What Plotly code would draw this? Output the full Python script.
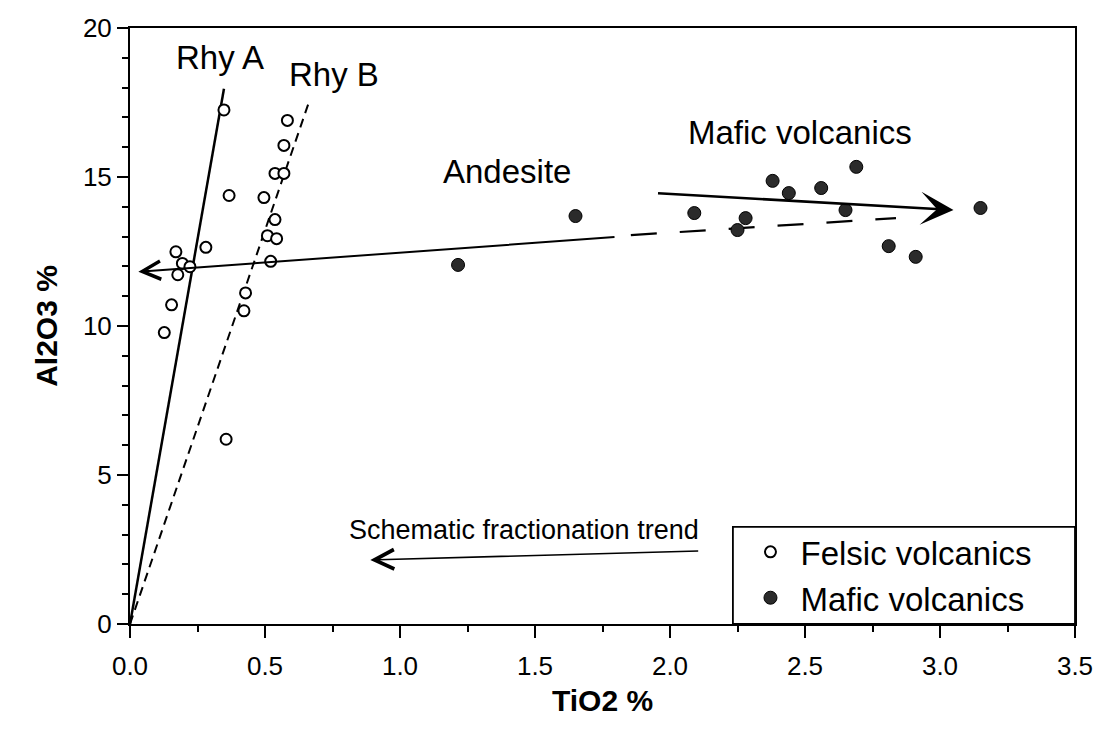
import plotly.graph_objects as go

# Felsic volcanics (open circles)
felsic_tio2 = [0.348, 0.367, 0.170, 0.281, 0.194, 0.222, 0.177, 0.154, 0.127, 0.356,
               0.583, 0.570, 0.537, 0.570, 0.496, 0.537, 0.509, 0.543, 0.521, 0.428, 0.422]
felsic_al2o3 = [17.25, 14.38, 12.49, 12.64, 12.10, 11.99, 11.72, 10.71, 9.78, 6.20,
                16.90, 16.06, 15.12, 15.12, 14.31, 13.57, 13.03, 12.93, 12.17, 11.11, 10.51]

# Mafic volcanics (filled circles)
mafic_tio2 = [1.215, 1.65, 2.09, 2.28, 2.25, 2.38, 2.44, 2.56, 2.65, 2.69, 2.81, 2.91, 3.15]
mafic_al2o3 = [12.05, 13.69, 13.79, 13.62, 13.22, 14.87, 14.46, 14.63, 13.89, 15.34, 12.68, 12.32, 13.96]

# Rhyolite trend lines through the origin
rhy_a_x = [0.0, 0.348]
rhy_a_y = [0.0, 17.96]
rhy_b_x = [0.0, 0.66]
rhy_b_y = [0.0, 17.44]

# Main fractionation trend: solid arrow part and dashed extension
trend_solid_x = [0.031, 1.80]
trend_solid_y = [11.82, 12.99]
trend_dash_x = [1.855, 2.837]
trend_dash_y = [13.05, 13.62]

# Mafic volcanics arrow (tail, head)
mafic_arrow_x = [1.95, 3.05]
mafic_arrow_y = [14.46, 13.89]

# Schematic fractionation trend arrow (tail, head)
schematic_x = [2.11, 0.89]
schematic_y = [2.45, 2.15]

# Text labels
label_text = ["Rhy A", "Rhy B", "Andesite", "Mafic volcanics", "Schematic fractionation trend"]
label_x = [0.333, 0.757, 1.397, 2.48, 1.46]
label_y = [19.0, 18.45, 15.18, 16.48, 3.15]
label_size = [33, 33, 33, 33, 27]

x_ticks = [0.0, 0.5, 1.0, 1.5, 2.0, 2.5, 3.0, 3.5]
y_ticks = [0, 5, 10, 15, 20]

FONT = "Liberation Sans, Arial, Helvetica, sans-serif"

fig = go.Figure()

fig.add_trace(go.Scatter(x=rhy_a_x, y=rhy_a_y, mode="lines",
                         line=dict(color="black", width=2.5), showlegend=False, hoverinfo="skip"))
fig.add_trace(go.Scatter(x=rhy_b_x, y=rhy_b_y, mode="lines",
                         line=dict(color="black", width=2, dash="9px,6px"), showlegend=False, hoverinfo="skip"))
fig.add_trace(go.Scatter(x=trend_dash_x, y=trend_dash_y, mode="lines",
                         line=dict(color="black", width=2.2, dash="26px,23px"), showlegend=False, hoverinfo="skip"))

fig.add_trace(go.Scatter(x=felsic_tio2, y=felsic_al2o3, mode="markers", name="Felsic volcanics",
                         marker=dict(symbol="circle", size=11, color="white",
                                     line=dict(color="black", width=2))))
fig.add_trace(go.Scatter(x=mafic_tio2, y=mafic_al2o3, mode="markers", name="Mafic volcanics",
                         marker=dict(symbol="circle", size=13, color="#2b2b2b",
                                     line=dict(color="black", width=1))))

# Arrows
fig.add_annotation(x=trend_solid_x[0], y=trend_solid_y[0], ax=trend_solid_x[1], ay=trend_solid_y[1],
                   xref="x", yref="y", axref="x", ayref="y", text="", showarrow=True,
                   arrowhead=5, arrowsize=1.8, arrowwidth=2, arrowcolor="black")
fig.add_annotation(x=mafic_arrow_x[1], y=mafic_arrow_y[1], ax=mafic_arrow_x[0], ay=mafic_arrow_y[0],
                   xref="x", yref="y", axref="x", ayref="y", text="", showarrow=True,
                   arrowhead=3, arrowsize=2.2, arrowwidth=2.5, arrowcolor="black")
fig.add_annotation(x=schematic_x[1], y=schematic_y[1], ax=schematic_x[0], ay=schematic_y[0],
                   xref="x", yref="y", axref="x", ayref="y", text="", showarrow=True,
                   arrowhead=5, arrowsize=2.4, arrowwidth=1.6, arrowcolor="black")

for t, lx, ly, s in zip(label_text, label_x, label_y, label_size):
    fig.add_annotation(x=lx, y=ly, xref="x", yref="y", text=t, showarrow=False,
                       font=dict(family=FONT, size=s, color="black"))

# Legend frame
fig.add_shape(type="rect", xref="paper", yref="paper", x0=0.638, x1=1.0, y0=0.0, y1=0.163,
              line=dict(color="black", width=1.8), fillcolor="white", layer="below")

axis_common = dict(showline=True, linecolor="black", linewidth=2, mirror=True,
                   showgrid=False, zeroline=False, ticks="outside", tickcolor="black",
                   tickwidth=2, tickfont=dict(family=FONT, size=26, color="black"))

fig.update_layout(
    width=1111, height=740,
    margin=dict(l=130, r=36, t=28, b=116),
    paper_bgcolor="white", plot_bgcolor="white",
    font=dict(family=FONT, color="black"),
    xaxis=dict(range=[0, 3.5], tickvals=x_ticks, tickformat=".1f", ticklen=12,
               ticklabelstandoff=6,
               minor=dict(dtick=0.25, ticks="outside", ticklen=6, tickwidth=1.5, tickcolor="black"),
               title=dict(text="TiO2 %", font=dict(family=FONT, size=30, weight="bold"), standoff=10),
               **axis_common),
    yaxis=dict(range=[0, 20], tickvals=y_ticks, ticklen=11,
               minor=dict(dtick=1, ticks="outside", ticklen=6, tickwidth=1.5, tickcolor="black"),
               title=dict(text="Al2O3 %", font=dict(family=FONT, size=30, weight="bold"), standoff=16),
               **axis_common),
    legend=dict(x=0.646, y=0.168, xanchor="left", yanchor="top", bgcolor="rgba(0,0,0,0)",
                borderwidth=0, font=dict(family=FONT, size=33, color="black"),
                itemwidth=50, tracegroupgap=0),
)

fig.write_html("out.html")
